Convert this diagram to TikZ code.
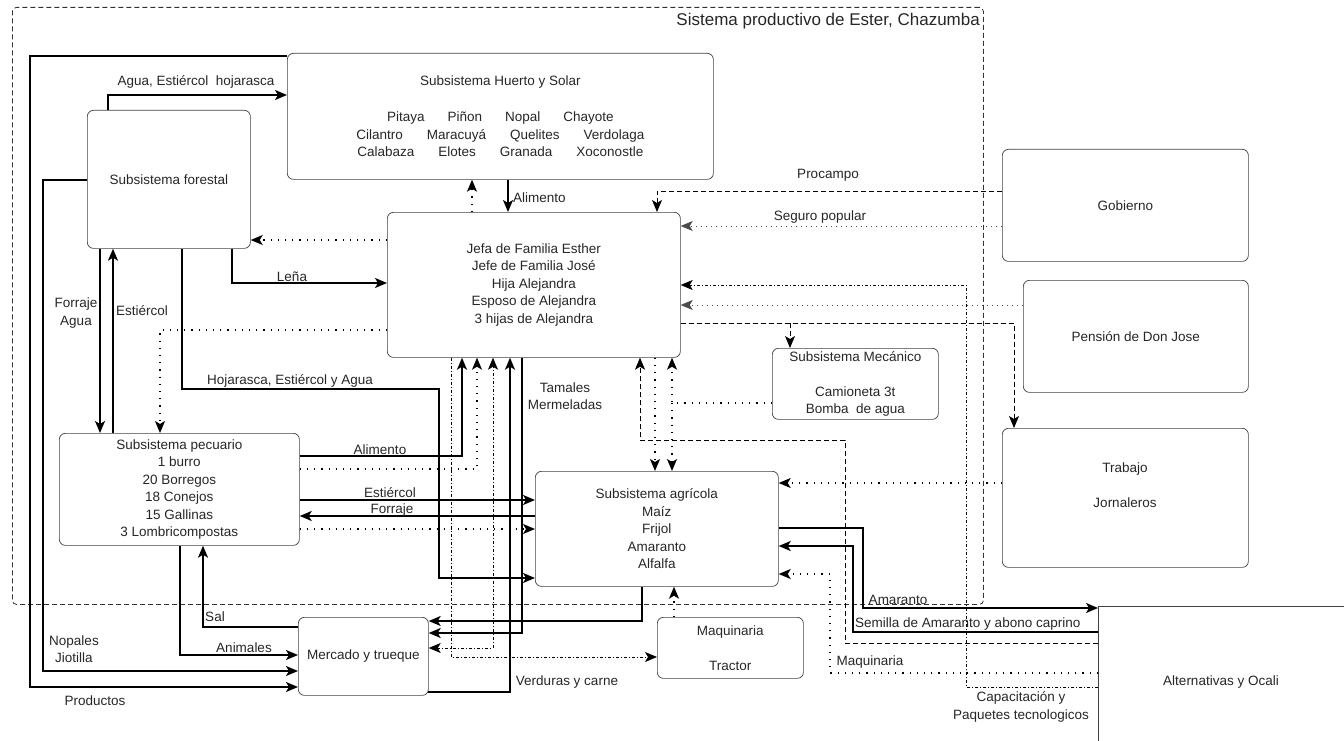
\documentclass[tikz,border=0pt]{standalone}
\usepackage{fontspec}
\setmainfont{Liberation Sans}
\usetikzlibrary{arrows.meta}
\begin{document}
\begin{tikzpicture}[x=1pt,y=-1pt,
  font=\fontsize{13.5}{17.5}\selectfont,
  every node/.append style={text=black!85},
  box/.style={draw=black!75, line width=0.7pt, rounded corners=6pt, inner sep=0pt, align=center, anchor=north west},
  boxline/.style={draw=black!75, line width=0.7pt},
  tip/.style={-{Stealth[length=12pt,width=10pt,inset=3pt]}},
  thk/.style={tip, line width=1.6pt},
  dotb/.style={tip, line width=1.2pt, dash pattern=on 1.2pt off 6pt},
  dotf/.style={tip, line width=0.8pt, black!70, dash pattern=on 1pt off 4pt},
  dshd/.style={tip, line width=0.9pt, dash pattern=on 5pt off 3pt},
  ddot/.style={tip, line width=0.8pt, dash pattern=on 3pt off 2pt on 1pt off 2pt},
  lbl/.style={inner sep=0pt, align=center}]
\useasboundingbox (0,0) rectangle (1344,741);

% outer frame
\node[draw=black!80, line width=0.8pt, dash pattern=on 5pt off 3pt, rounded corners=4pt,
  minimum width=971pt, minimum height=597pt, anchor=north west, inner sep=0pt] (sys) at (12,7) {};
\node[lbl, anchor=east, font=\fontsize{17}{20}\selectfont] (title) at (980,21) {Sistema productivo de Ester, Chazumba};

% boxes
\node[box, minimum width=426pt, minimum height=126pt] (huerto) at (287,53)
 {Subsistema Huerto y Solar\\[18.5pt]
  Pitaya\hspace{23pt}Piñon\hspace{23pt}Nopal\hspace{23pt}Chayote\\
  Cilantro\hspace{24pt}Maracuyá\hspace{24pt}Quelites\hspace{24pt}Verdolaga\\
  Calabaza\hspace{24pt}Elotes\hspace{24pt}Granada\hspace{24pt}Xoconostle};
\node[box, minimum width=163pt, minimum height=138pt] (forestal) at (87,110) {Subsistema forestal};
\node[box, minimum width=293pt, minimum height=145pt] (jefa) at (387,212)
 {Jefa de Familia Esther\\Jefe de Familia José\\Hija Alejandra\\Esposo de Alejandra\\3 hijas de Alejandra};
\node[box, minimum width=240pt, minimum height=112pt] (pecuario) at (59,433)
 {Subsistema pecuario\\1 burro\\20 Borregos\\18 Conejos\\15 Gallinas\\3 Lombricompostas};
\node[box, minimum width=243pt, minimum height=115pt] (agricola) at (535,471)
 {Subsistema agrícola\\Maíz\\Frijol\\Amaranto\\Alfalfa};
\node[box, minimum width=166pt, minimum height=71pt] (mecanico) at (772,348)
 {Subsistema Mecánico\\[17.5pt]Camioneta 3t\\Bomba\ \ de agua};
\node[box, minimum width=130pt, minimum height=78pt] (mercado) at (298,617) {Mercado y trueque};
\node[box, minimum width=146pt, minimum height=61pt] (maquinaria) at (657,617) {Maquinaria\\[17.5pt]Tractor};
\node[box, minimum width=246pt, minimum height=112pt] (gobierno) at (1002,149) {Gobierno};
\node[box, minimum width=225pt, minimum height=112pt] (pension) at (1023,280) {Pensión de Don Jose};
\node[box, minimum width=246pt, minimum height=139pt] (trabajo) at (1002,428) {};
\node[lbl] (trabtxt) at (1125,485) {Trabajo\\[17.5pt]Jornaleros};
\node[inner sep=0pt, anchor=north west, minimum width=246pt, minimum height=135pt] (alt) at (1098,606) {};
\draw[boxline] (alt.north east) -- (alt.north west) -- (alt.south west);
\node[lbl] (alttxt) at (1221,682) {Alternativas y Ocali};

% thick connectors
\draw[thk] (huerto.west |- 0,56) -- (30,56) -- (30,687) -- (mercado.west |- 0,687);
\node[lbl] (lprod) at (95,701) {Productos};
\draw[thk] (forestal.west |- 0,180) -- (43,180) -- (43,671) -- (mercado.west |- 0,671);
\node[lbl] (lnop) at (74,649) {Nopales\\Jiotilla};
\draw[thk] (108,0 |- forestal.north) -- (108,95) -- (huerto.west |- 0,95);
\node[lbl] (lagua) at (196,82) {Agua, Estiércol\ \ hojarasca};
\draw[thk] (100,0 |- forestal.south) -- (100,0 |- pecuario.north);
\draw[thk] (113,0 |- pecuario.north) -- (113,0 |- forestal.south);
\node[lbl] (lforr) at (76,313) {Forraje\\Agua};
\node[lbl] (lest1) at (142,311) {Estiércol};
\draw[thk] (232,0 |- forestal.south) -- (232,283) -- (jefa.west |- 0,283);
\node[lbl] (llena) at (292,277) {Leña};
\draw[thk] (182,0 |- forestal.south) -- (182,389) -- (439,389) -- (439,578) -- (agricola.west |- 0,578);
\node[lbl] (lhoja) at (290,381) {Hojarasca, Estiércol y Agua};
\draw[thk] (508,0 |- huerto.south) -- (508,0 |- jefa.north);
\node[lbl, anchor=west] (lali1) at (513,198) {Alimento};
\draw[thk] (pecuario.east |- 0,456) -- (462,456) -- (462,0 |- jefa.south);
\node[lbl] (lali2) at (380,450) {Alimento};
\draw[thk] (pecuario.east |- 0,500) -- (agricola.west |- 0,500);
\node[lbl] (lest2) at (390,493) {Estiércol};
\draw[thk] (agricola.west |- 0,516) -- (pecuario.east |- 0,516);
\node[lbl] (lforr2) at (392,510) {Forraje};
\draw[thk] (522,0 |- jefa.south) -- (522,633) -- (mercado.east |- 0,633);
\node[lbl] (ltam) at (565,396) {Tamales\\Mermeladas};
\draw[thk] (428,692) -- (510,692) -- (510,0 |- jefa.south);
\node[lbl] (lverd) at (567,682) {Verduras y carne};
\draw[thk] (642,0 |- agricola.south) -- (642,621) -- (mercado.east |- 0,621);
\draw[thk] (mercado.west |- 0,627) -- (203,627) -- (203,0 |- pecuario.south);
\node[lbl] (lsal) at (215,617) {Sal};
\draw[thk] (180,0 |- pecuario.south) -- (180,655) -- (mercado.west |- 0,655);
\node[lbl] (lanim) at (244,648) {Animales};
\draw[thk] (agricola.east |- 0,528) -- (863,528) -- (863,608) -- (alt.west |- 0,608);
\node[lbl] (lamar) at (898,600) {Amaranto};
\draw[thk] (alt.west |- 0,632) -- (853,632) -- (853,546) -- (agricola.east |- 0,546);
\node[lbl, anchor=west] (lsem) at (855,624) {Semilla de Amaranto y abono caprino};

% dotted / dashed connectors
\draw[dotb] (472,0 |- jefa.north) -- (472,0 |- huerto.south);
\draw[dotb] (jefa.west |- 0,240) -- (forestal.east |- 0,240);
\draw[dotb] (jefa.west |- 0,330) -- (160,330) -- (160,0 |- pecuario.north);
\draw[dotb] (pecuario.east |- 0,469) -- (477,469) -- (477,0 |- jefa.south);
\draw[dotb] (pecuario.east |- 0,529) -- (agricola.west |- 0,529);
\draw[ddot] (451,0 |- jefa.south) -- (451,657) -- (maquinaria.west |- 0,657);
\draw[ddot, {Stealth[length=12pt,width=10pt,inset=3pt]}-{Stealth[length=12pt,width=10pt,inset=3pt]}]
  (mercado.east |- 0,648) -- (493,648) -- (493,0 |- jefa.south);
\draw[dotb] (674,0 |- maquinaria.north) -- (674,0 |- agricola.south);
\draw[dotb] (mecanico.west |- 0,403) -- (672,403) -- (672,0 |- jefa.south);
\draw[dotb] (672,403) -- (672,0 |- agricola.north);
\draw[dotb] (655,0 |- jefa.south) -- (655,0 |- agricola.north);
\draw[dshd, line width=0.7pt] (alt.west |- 0,643) -- (845,643) -- (845,440) -- (640,440) -- (640,0 |- jefa.south);
\draw[dotb] (trabajo.west |- 0,483) -- (agricola.east |- 0,483);
\draw[dotb] (alt.west |- 0,673) -- (830,673) -- (830,574) -- (agricola.east |- 0,574);
\node[lbl] (lmaq) at (870,662) {Maquinaria};
\draw[ddot] (alt.west |- 0,687) -- (966,687) -- (966,285) -- (jefa.east |- 0,285);
\node[lbl] (lcap) at (1021,707) {Capacitación y\\Paquetes tecnologicos};
\draw[dotf] (pension.west |- 0,305) -- (jefa.east |- 0,305);
\draw[dotf] (gobierno.west |- 0,226) -- (jefa.east |- 0,226);
\node[lbl] (lseg) at (820,217) {Seguro popular};
\draw[dshd] (gobierno.west |- 0,191) -- (657,191) -- (657,0 |- jefa.north);
\node[lbl] (lproc) at (828,175) {Procampo};
\draw[dshd] (jefa.east |- 0,323) -- (1014,323) -- (1014,0 |- trabajo.north);
\draw[dshd] (790,323) -- (790,0 |- mecanico.north);
\end{tikzpicture}
\end{document}
